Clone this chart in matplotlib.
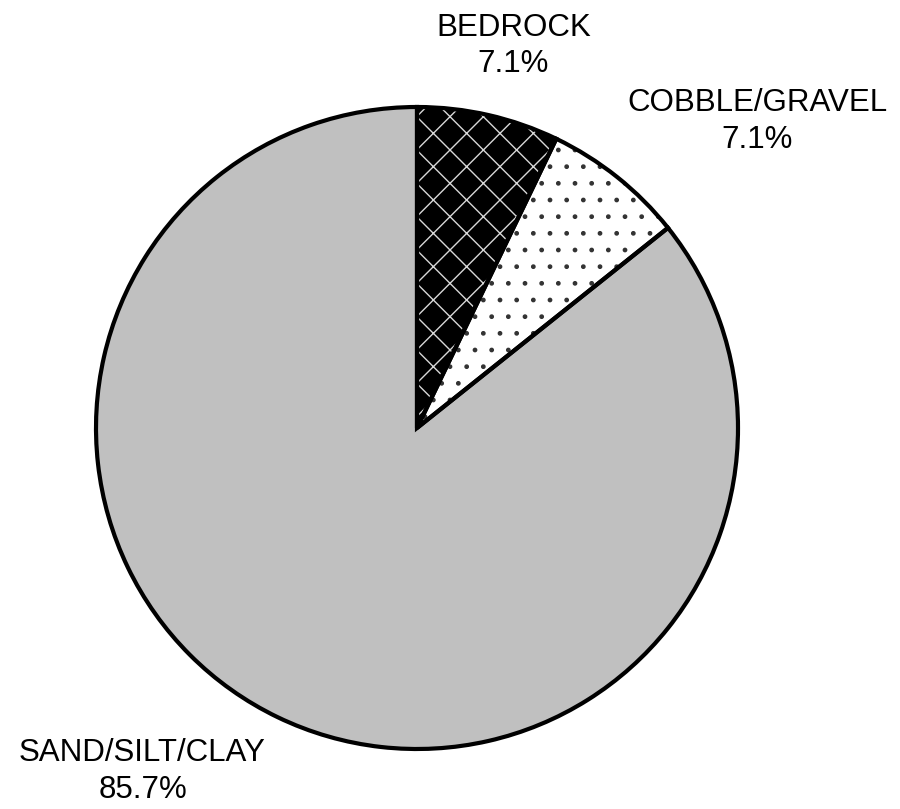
import numpy as np
import matplotlib
matplotlib.use('Agg')
import matplotlib.pyplot as plt

plt.rcParams['font.family'] = ['Liberation Sans', 'DejaVu Sans']
plt.rcParams['hatch.linewidth'] = 1.0

# data
labels = ['BEDROCK', 'COBBLE/GRAVEL', 'SAND/SILT/CLAY']
counts = [1, 1, 12]
colors = ['black', 'white', '#c0c0c0']
hatches = ['x', '.', '']
hatch_colors = ['#d8d8d8', '#333333', 'black']
label_pos = [(0.30, 1.19), (1.06, 0.955), (-0.855, -1.07)]

W, H = 900, 809
cx, cy, r = 417, 428, 321

fig = plt.figure(figsize=(W / 100, H / 100), dpi=100)
ax = fig.add_axes([(cx - r) / W, (H - cy - r) / H, 2 * r / W, 2 * r / H])

# fills
ax.pie(counts, colors=colors, startangle=90, counterclock=False,
       radius=1, wedgeprops=dict(linewidth=0))
# hatch overlays, hatch takes the edge colour
overlay, _ = ax.pie(counts, colors=['none'] * 3, startangle=90,
                    counterclock=False, radius=1, hatch=hatches,
                    wedgeprops=dict(linewidth=0))
for w, hc in zip(overlay, hatch_colors):
    w.set_edgecolor(hc)
# outlines
ax.pie(counts, colors=['none'] * 3, startangle=90, counterclock=False,
       radius=1, wedgeprops=dict(edgecolor='black', linewidth=3))

total = sum(counts)
for lab, c, (x, y) in zip(labels, counts, label_pos):
    pct = 100 * c / total
    ax.text(x, y, '%s\n%.1f%%' % (lab, pct), ha='center', va='center',
            fontsize=22.5, linespacing=1.3, clip_on=False)

ax.set_xlim(-1, 1)
ax.set_ylim(-1, 1)
ax.set_aspect('equal')
ax.axis('off')
plt.savefig('out.png', dpi=100)
